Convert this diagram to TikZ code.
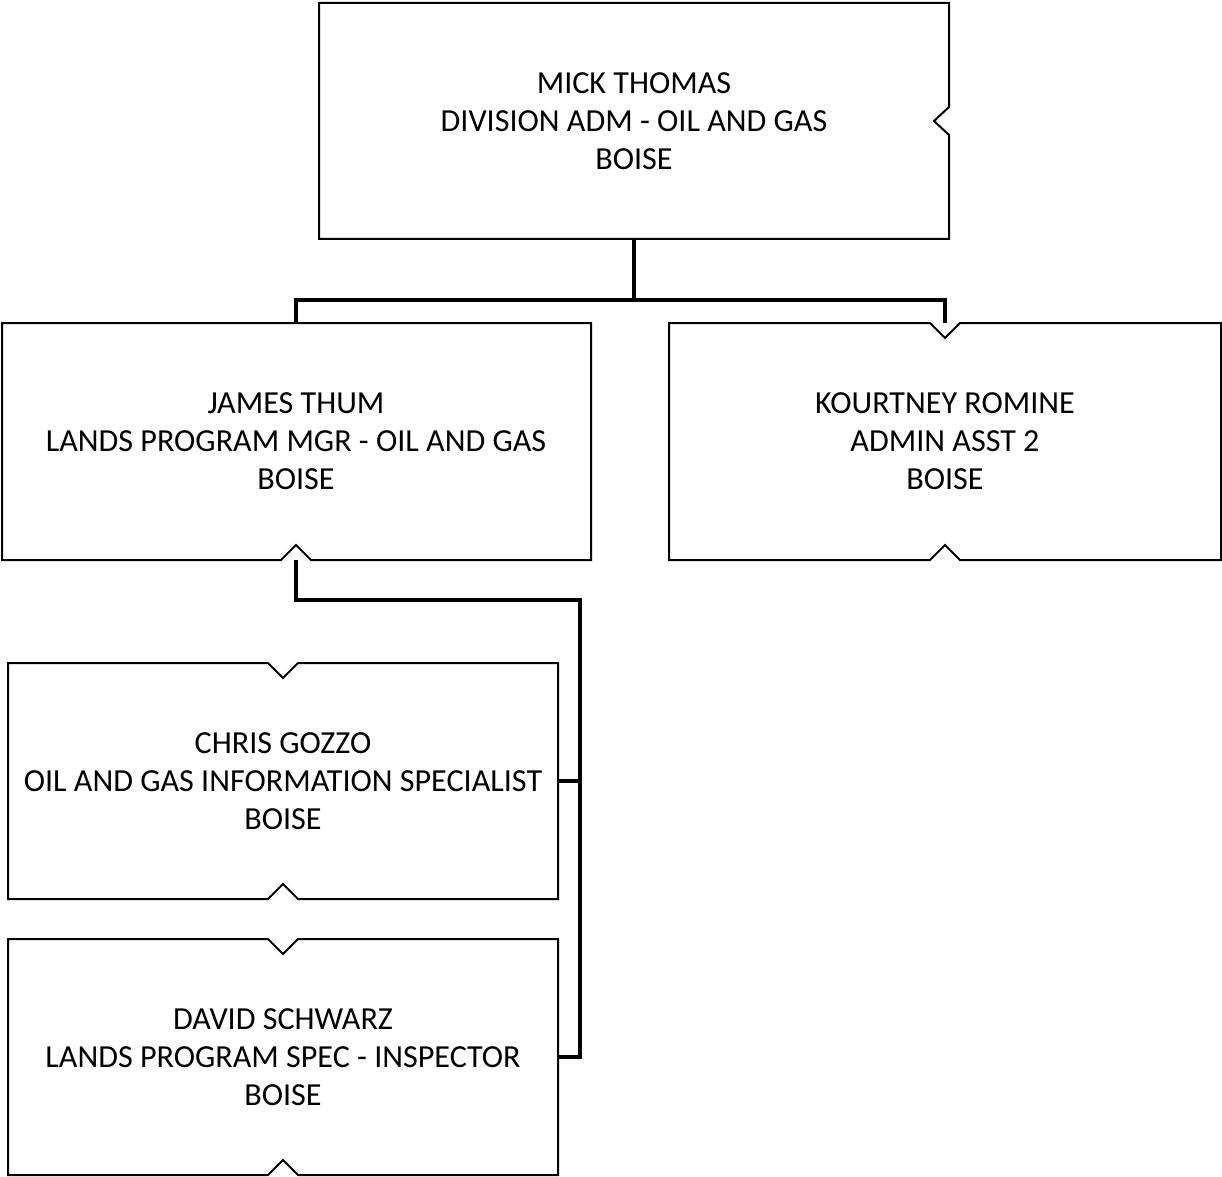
\documentclass[tikz,border=0pt]{standalone}
\usepackage{fontspec}
\setmainfont{Carlito}
\begin{document}
\begin{tikzpicture}[x=0.75pt,y=-0.75pt,
  person/.style={draw=none,inner sep=0pt,align=center,font=\fontsize{24.1pt}{28.5pt}\selectfont},
  outline/.style={draw=black,line width=1.5pt,line join=miter},
  link/.style={draw=black,line width=2.6pt,line join=miter}]
\useasboundingbox (0,0) rectangle (1222,1177);
% outlines
\draw[outline] (319,3) -- (949,3) -- (949,107) -- (934,121) -- (949,135) -- (949,239) -- (319,239) -- cycle;
\draw[outline] (2,323) -- (591,323) -- (591,560) -- (311,560) -- (296,545) -- (281,560) -- (2,560) -- cycle;
\draw[outline] (669,323) -- (930,323) -- (945,338) -- (960,323) -- (1221,323) -- (1221,560) -- (960,560) -- (945,545) -- (930,560) -- (669,560) -- cycle;
\draw[outline] (8,663) -- (268,663) -- (283,678) -- (298,663) -- (558,663) -- (558,899) -- (298,899) -- (283,884) -- (268,899) -- (8,899) -- cycle;
\draw[outline] (8,939) -- (268,939) -- (283,954) -- (298,939) -- (558,939) -- (558,1175) -- (298,1175) -- (283,1160) -- (268,1175) -- (8,1175) -- cycle;
% nodes
\node[person,minimum width=472.5pt,minimum height=177pt] (top) at (634,121) {\raisebox{-0.75pt}{\parbox{472.5pt}{\centering MICK THOMAS\\DIVISION ADM - OIL AND GAS\\BOISE}}};
\node[person,minimum width=441.75pt,minimum height=177.75pt] (james) at (296,441.5) {\raisebox{-0.75pt}{\parbox{441.75pt}{\centering JAMES THUM\\LANDS PROGRAM MGR - OIL AND GAS\\BOISE}}};
\node[person,minimum width=414pt,minimum height=177.75pt] (kourt) at (945,441.5) {\raisebox{-0.75pt}{\parbox{414pt}{\centering KOURTNEY ROMINE\\ADMIN ASST 2\\BOISE}}};
\node[person,minimum width=412.5pt,minimum height=177pt] (chris) at (283,781) {\raisebox{-0.75pt}{\parbox{412.5pt}{\centering CHRIS GOZZO\\OIL AND GAS INFORMATION SPECIALIST\\BOISE}}};
\node[person,minimum width=412.5pt,minimum height=177pt] (david) at (283,1057) {\raisebox{-0.75pt}{\parbox{412.5pt}{\centering DAVID SCHWARZ\\LANDS PROGRAM SPEC - INSPECTOR\\BOISE}}};
% connectors
\coordinate (hub) at (634,300);
\coordinate (bus) at (580,600);
\draw[link] (top.south) -- (hub);
\draw[link] (james.north) |- (hub) -| (kourt.north);
\draw[link] (james.south) |- (bus) -- (bus |- david.east) -- (david.east);
\draw[link] (chris.east) -- (chris.east -| bus);
\end{tikzpicture}
\end{document}
